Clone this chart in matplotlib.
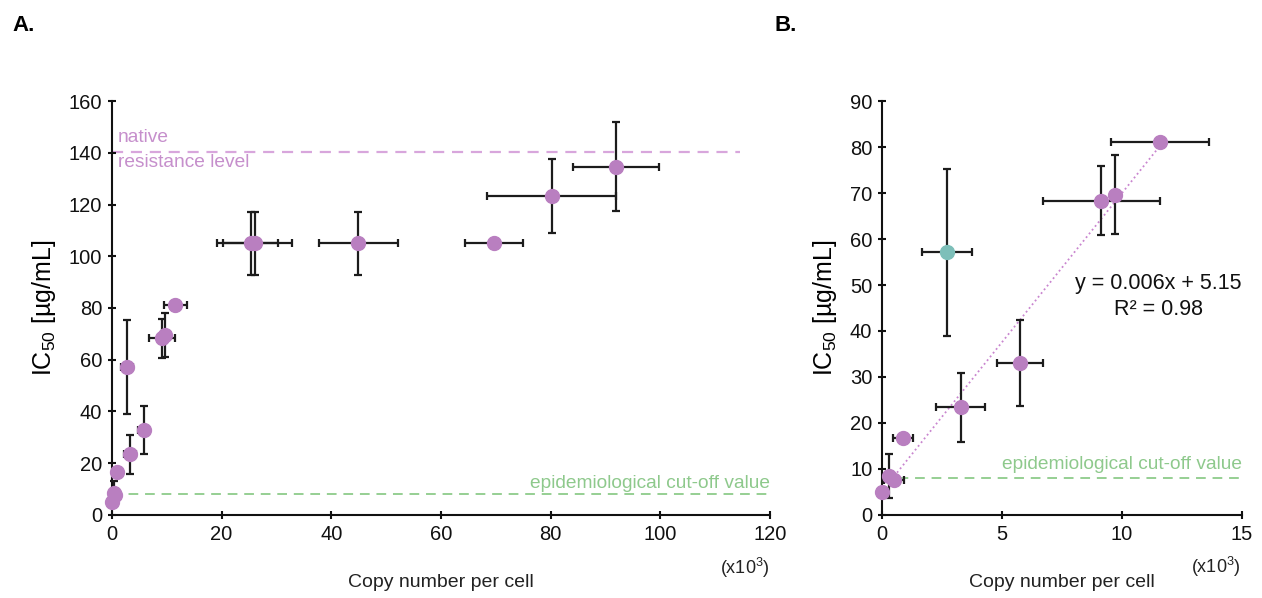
import numpy as np
from matplotlib import pyplot as plt

plt.rcParams["font.family"] = ["Liberation Sans", "DejaVu Sans"]
plt.rcParams["mathtext.fontset"] = "custom"
plt.rcParams["mathtext.rm"] = "Liberation Sans"

# low copy number strains (x10^3 copies per cell), shown in both panels
low_x = [0.0, 0.30, 0.50, 0.87, 2.70, 3.27, 5.76, 9.14, 9.70, 11.58]
low_y = [4.9, 8.5, 7.6, 16.7, 57.1, 23.4, 33.0, 68.3, 69.6, 81.0]
low_xerr = [0, 0, 0.40, 0.43, 1.05, 1.03, 0.96, 2.44, 0, 2.03]
low_yerr = [0, 4.7, 0, 0, 18.2, 7.5, 9.3, 7.5, 8.6, 0]
outlier = 4   # strain drawn in teal in panel B, left out of the fit

# high copy number strains, panel A only
high_x = [25.3, 26.0, 44.9, 69.7, 80.2, 91.9]
high_y = [105.0, 105.0, 105.0, 105.0, 123.2, 134.5]
high_xerr = [5.0, 6.9, 7.2, 5.3, 11.8, 7.9]
high_yerr = [12.2, 12.2, 12.2, 0, 14.3, 17.2]

native_level = 140.4
ecoff = 8.0

pink = "#b97fc0"
teal = "#7dbfb9"
pink_line = "#d8a6dc"
green_line = "#96cf93"
pink_text = "#c68fcc"
green_text = "#8ec98c"
bar_col = "#1c1c1c"


def style_axes(ax, xmax, xstep, ymax, ystep):
    ax.set_xlim(0, xmax)
    ax.set_ylim(0, ymax)
    ax.set_xticks(np.arange(0, xmax + 0.1, xstep))
    ax.set_yticks(np.arange(0, ymax + 0.1, ystep))
    ax.spines["top"].set_visible(False)
    ax.spines["right"].set_visible(False)
    for s in ["left", "bottom"]:
        ax.spines[s].set_linewidth(1.5)
        ax.spines[s].set_color("#111111")
    ax.tick_params(direction="inout", length=6, width=1.5, labelsize=14.5,
                   colors="#111111", pad=4)
    ax.set_ylabel(r"IC$_{\mathregular{50}}$ [µg/mL]", fontsize=18, labelpad=8)
    ax.set_xlabel("Copy number per cell", fontsize=14, labelpad=22,
                  color="#222222")


def draw_points(ax, x, y, xerr, yerr, colors):
    for xi, yi, xe, ye, c in zip(x, y, xerr, yerr, colors):
        eb = ax.errorbar(xi, yi, xerr=xe if xe else None, yerr=ye if ye else None,
                         fmt="o", ms=10, mfc=c, mec=c, ecolor=bar_col,
                         elinewidth=1.6, capsize=3.2, capthick=1.6, zorder=3)
        for art in eb.get_children():
            art.set_clip_on(False)


fig = plt.figure(figsize=(12.62, 5.98), dpi=100)
axA = fig.add_axes([0.0887, 0.1388, 0.5214, 0.6923])
axB = fig.add_axes([0.6989, 0.1388, 0.2853, 0.6923])

# panel A
style_axes(axA, 120, 20, 160, 20)
axA.plot([0, 114.5], [native_level, native_level], color=pink_line, lw=1.6,
         dashes=(5, 3.5), zorder=1)
axA.plot([0, 120], [ecoff, ecoff], color=green_line, lw=1.4,
         dashes=(5, 3.5), zorder=1)
axA.text(1.1, 145.9, "native", color=pink_text, fontsize=13.8, va="center")
axA.text(1.1, 136.2, "resistance level", color=pink_text, fontsize=13.8,
         va="center")
axA.text(120, 12.0, "epidemiological cut-off value", color=green_text,
         fontsize=13.8, ha="right", va="center")
all_x = low_x + high_x
all_y = low_y + high_y
all_xerr = low_xerr + high_xerr
all_yerr = low_yerr + high_yerr
draw_points(axA, all_x, all_y, all_xerr, all_yerr, [pink] * len(all_x))
axA.text(0.962, -0.128, r"(x10$^{\mathregular{3}}$)", transform=axA.transAxes,
         fontsize=13, ha="center", va="center", color="#222222")

# panel B
style_axes(axB, 15, 5, 90, 10)
axB.plot([0, 15], [ecoff, ecoff], color=green_line, lw=1.4,
         dashes=(5, 3.5), zorder=1)
axB.text(15, 10.9, "epidemiological cut-off value", color=green_text,
         fontsize=13.8, ha="right", va="center")

fit_x = np.array([v for i, v in enumerate(low_x) if i != outlier])
fit_y = np.array([v for i, v in enumerate(low_y) if i != outlier])
coef = np.polyfit(fit_x, fit_y, 1)
xt = np.linspace(fit_x.min(), fit_x.max(), 100)
axB.plot(xt, np.polyval(coef, xt), color="#c985cf", lw=1.3, ls=":", zorder=2)

colors_b = [teal if i == outlier else pink for i in range(len(low_x))]
draw_points(axB, low_x, low_y, low_xerr, low_yerr, colors_b)
axB.text(11.5, 47.5, "y = 0.006x + 5.15\nR² = 0.98", fontsize=15.5,
         ha="center", va="center", linespacing=1.35, color="#111111")
axB.text(0.928, -0.125, r"(x10$^{\mathregular{3}}$)", transform=axB.transAxes,
         fontsize=13, ha="center", va="center", color="#222222")

fig.text(0.010, 0.958, "A.", fontsize=16, fontweight="bold", va="center")
fig.text(0.614, 0.958, "B.", fontsize=16, fontweight="bold", va="center")

fig.savefig("out.png", dpi=100)
